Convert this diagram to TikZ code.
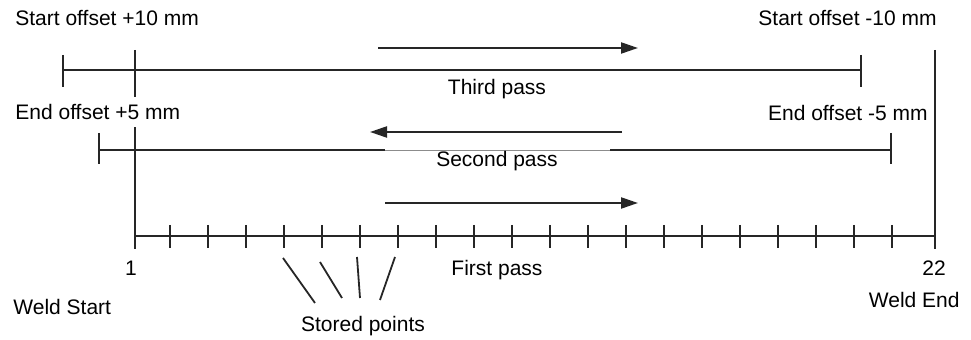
\documentclass[tikz,border=0pt]{standalone}
\usepackage{fontspec}
\setmainfont{Liberation Sans}
\usetikzlibrary{arrows.meta}
\begin{document}
\begin{tikzpicture}[x=0.5pt,y=-0.5pt,
  lbl/.style={font=\fontsize{10.5}{12}\selectfont, inner sep=0pt, text=black},
  bar/.style={line width=1.3pt, draw=black!85},
  thinbar/.style={line width=0.4pt, draw=black!45},
  dirarrow/.style={line width=1.1pt, draw=black!85, -{Triangle[length=8.5pt,width=5.5pt]}},
  leader/.style={line width=0.9pt, draw=black!85}]
\useasboundingbox (0,0) rectangle (971,340);

% weld start / weld end boundaries
\coordinate (wsT) at (135,50);  \coordinate (wsB) at (135,249);
\coordinate (weT) at (935,50);  \coordinate (weB) at (935,249);
\draw[bar] (wsT) -- (wsB);
\draw[bar] (weT) -- (weB);

% first pass: baseline with the stored points
\coordinate (p1) at (135,236);
\coordinate (p22) at (935,236);
\draw[bar] (p1) -- (p22);
\foreach \i in {2,...,21}{
  \coordinate (p\i) at ({170+38*(\i-2)},236);
  \draw[bar] (p\i) ++(0,-11) -- ++(0,23);
}

% third pass
\coordinate (t1) at (63,70);  \coordinate (t2) at (861,70);
\draw[bar] (t1) -- (t2);
\draw[bar] (t1) ++(0,-15) -- ++(0,32);
\draw[bar] (t2) ++(0,-15) -- ++(0,32);

% second pass (label interrupts the line)
\coordinate (s1) at (99,150);  \coordinate (s2) at (891,150);
\coordinate (sa) at (385,150); \coordinate (sb) at (610,150);
\draw[bar] (s1) -- (sa);
\draw[thinbar] (sa) -- (sb);
\draw[bar] (sb) -- (s2);
\draw[bar] (s1) ++(0,-17) -- ++(0,31);
\draw[bar] (s2) ++(0,-17) -- ++(0,31);

% direction arrows
\coordinate (a3s) at (378,48);  \coordinate (a3e) at (638,48);
\coordinate (a2s) at (622,132); \coordinate (a2e) at (370,132);
\coordinate (a1s) at (385,203); \coordinate (a1e) at (638,203);
\draw[dirarrow] (a3s) -- (a3e);
\draw[dirarrow] (a2s) -- (a2e);
\draw[dirarrow] (a1s) -- (a1e);

% labels
\node[lbl, anchor=west] (so1) at (15,18) {Start offset +10 mm};
\node[lbl, anchor=west, fill=white, inner ysep=3.5pt, inner xsep=0pt] (eo1) at (15,112) {End offset +5 mm};
\node[lbl, anchor=east] (so2) at (937,18) {Start offset -10 mm};
\node[lbl, anchor=east] (eo2) at (928,113) {End offset -5 mm};
\node[lbl] (tp) at (497,89) {Third pass};
\node[lbl] (sp) at (497,161) {Second pass};
\node[lbl] (fp) at (497,270) {First pass};
\node[lbl] (n1) at (131,268) {1};
\node[lbl] (n22) at (934,268) {22};
\node[lbl, anchor=west] (wst) at (13,307) {Weld Start};
\node[lbl, anchor=east] (wen) at (960,300) {Weld End};
\node[lbl] (stp) at (363,326) {Stored points};

% leaders from the stored points to their label
\coordinate (l5) at (283,258);  \coordinate (m5) at (315,303);
\coordinate (l6) at (320,262);  \coordinate (m6) at (342,298);
\coordinate (l7) at (357,257);  \coordinate (m7) at (360,298);
\coordinate (l8) at (395,257);  \coordinate (m8) at (380,300);
\draw[leader] (l5) -- (m5);
\draw[leader] (l6) -- (m6);
\draw[leader] (l7) -- (m7);
\draw[leader] (l8) -- (m8);
\end{tikzpicture}
\end{document}
